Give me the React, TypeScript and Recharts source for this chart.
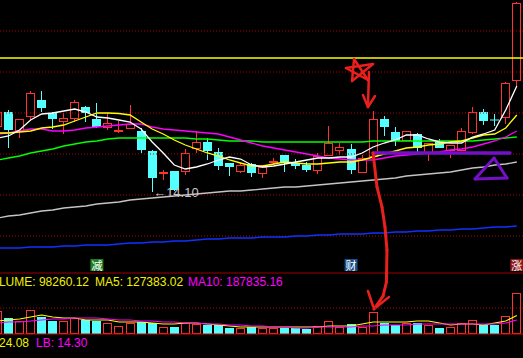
import React from 'react';
import { ComposedChart, Bar, Line, XAxis, YAxis, ReferenceLine, ReferenceDot } from 'recharts';

// ---------------- data ----------------
const dayIndex = [-1, 0, 1, 2, 3, 4, 5, 6, 7, 8, 9, 10, 11, 12, 13, 14, 15, 16, 17, 18, 19, 20, 21, 22, 23, 24, 25, 26, 27, 28, 29, 30, 31, 32, 33, 34, 35, 36, 37, 38, 39, 40, 41, 42, 43, 44, 45, 46];

const openPrices = [15.40, 15.70, 15.32, 15.60, 15.94, 15.68, 15.50, 15.56, 15.80, 15.56, 15.38, 15.32, 15.36, 15.32, 14.92, 14.46, 14.52, 14.50, 14.96, 15.10, 14.90, 14.68, 14.50, 14.66, 14.46, 14.70, 14.84, 14.68, 14.64, 14.52, 14.82, 14.92, 14.96, 14.48, 14.80, 15.56, 15.30, 15.12, 15.26, 14.86, 15.10, 14.92, 14.92, 15.28, 15.70, 15.54, 15.58, 16.32];
const highPrices = [15.72, 15.74, 15.56, 16.12, 16.12, 15.70, 15.68, 15.94, 15.82, 15.88, 15.68, 15.52, 15.84, 15.38, 14.94, 14.54, 14.52, 14.96, 15.32, 15.18, 14.98, 14.68, 14.68, 14.68, 14.62, 14.78, 14.84, 14.76, 14.70, 14.88, 15.42, 15.08, 15.06, 14.84, 15.72, 15.62, 15.40, 15.32, 15.28, 15.08, 15.16, 15.04, 15.38, 15.80, 15.76, 15.66, 16.30, 17.90];
const lowPrices = [15.38, 14.98, 15.18, 15.54, 15.70, 15.36, 15.26, 15.50, 15.50, 15.38, 15.34, 15.28, 15.36, 14.88, 14.10, 14.34, 14.12, 14.44, 14.88, 14.74, 14.54, 14.42, 14.48, 14.40, 14.38, 14.64, 14.50, 14.56, 14.50, 14.46, 14.82, 14.84, 14.46, 14.48, 14.80, 15.22, 15.02, 15.12, 14.90, 14.72, 14.98, 14.78, 14.92, 15.26, 15.44, 15.42, 15.46, 16.22];
const closePrices = [15.70, 15.34, 15.56, 16.08, 15.78, 15.56, 15.58, 15.90, 15.68, 15.40, 15.48, 15.34, 15.46, 14.94, 14.38, 14.50, 14.14, 14.88, 15.10, 14.92, 14.62, 14.60, 14.64, 14.48, 14.60, 14.72, 14.70, 14.62, 14.54, 14.82, 15.08, 15.00, 14.54, 14.78, 15.56, 15.40, 15.12, 15.32, 14.98, 15.08, 14.98, 15.04, 15.32, 15.70, 15.52, 15.54, 16.28, 17.88];

const ma5 = [15.18, 15.22, 15.34, 15.54, 15.66, 15.68, 15.72, 15.76, 15.70, 15.60, 15.58, 15.54, 15.50, 15.36, 15.10, 14.88, 14.64, 14.56, 14.60, 14.66, 14.74, 14.80, 14.76, 14.64, 14.60, 14.62, 14.66, 14.70, 14.74, 14.78, 14.78, 14.80, 14.80, 14.88, 15.00, 15.08, 15.14, 15.24, 15.24, 15.16, 15.10, 15.08, 15.08, 15.20, 15.26, 15.34, 15.74, 16.22];
const ma10 = [15.28, 15.28, 15.30, 15.32, 15.38, 15.40, 15.44, 15.52, 15.60, 15.68, 15.68, 15.67, 15.64, 15.50, 15.36, 15.26, 15.14, 15.04, 14.96, 14.88, 14.82, 14.74, 14.68, 14.62, 14.62, 14.66, 14.70, 14.68, 14.66, 14.66, 14.68, 14.70, 14.70, 14.74, 14.80, 14.86, 14.92, 14.98, 15.00, 15.04, 15.06, 15.10, 15.12, 15.18, 15.24, 15.26, 15.38, 15.64];
const ma20 = [15.26, 15.28, 15.32, 15.36, 15.36, 15.32, 15.32, 15.34, 15.38, 15.40, 15.42, 15.44, 15.46, 15.46, 15.40, 15.36, 15.34, 15.32, 15.30, 15.28, 15.26, 15.20, 15.14, 15.08, 15.02, 14.98, 14.94, 14.90, 14.86, 14.82, 14.78, 14.76, 14.74, 14.74, 14.74, 14.78, 14.82, 14.84, 14.86, 14.88, 14.90, 14.94, 14.96, 15.00, 15.06, 15.12, 15.20, 15.32];
const ma30 = [14.74, 14.78, 14.82, 14.88, 14.92, 14.96, 15.02, 15.06, 15.10, 15.12, 15.16, 15.18, 15.18, 15.18, 15.18, 15.18, 15.18, 15.18, 15.16, 15.16, 15.14, 15.12, 15.12, 15.12, 15.10, 15.10, 15.10, 15.10, 15.10, 15.10, 15.10, 15.10, 15.10, 15.10, 15.12, 15.12, 15.12, 15.12, 15.12, 15.12, 15.12, 15.12, 15.12, 15.12, 15.14, 15.16, 15.18, 15.20];
const ma60 = [13.58, 13.62, 13.64, 13.68, 13.72, 13.74, 13.78, 13.80, 13.82, 13.86, 13.88, 13.90, 13.94, 13.96, 13.98, 14.00, 14.02, 14.04, 14.06, 14.08, 14.10, 14.12, 14.12, 14.14, 14.16, 14.18, 14.20, 14.20, 14.22, 14.24, 14.26, 14.28, 14.30, 14.32, 14.34, 14.36, 14.38, 14.42, 14.44, 14.46, 14.48, 14.50, 14.54, 14.58, 14.60, 14.64, 14.66, 14.70];
const ma120 = [12.98, 12.98, 12.98, 13.00, 13.00, 13.00, 13.02, 13.02, 13.04, 13.04, 13.04, 13.06, 13.08, 13.08, 13.10, 13.10, 13.12, 13.12, 13.14, 13.16, 13.16, 13.18, 13.18, 13.18, 13.20, 13.20, 13.20, 13.22, 13.22, 13.24, 13.24, 13.26, 13.26, 13.26, 13.28, 13.28, 13.30, 13.30, 13.32, 13.32, 13.34, 13.34, 13.36, 13.36, 13.38, 13.40, 13.40, 13.42];

const volumes = [460000, 320000, 260000, 480000, 340000, 260000, 260000, 320000, 280000, 260000, 220000, 160000, 220000, 240000, 220000, 140000, 140000, 220000, 200000, 180000, 180000, 120000, 120000, 140000, 120000, 120000, 120000, 120000, 100000, 160000, 260000, 140000, 200000, 140000, 440000, 220000, 180000, 220000, 220000, 180000, 120000, 140000, 220000, 280000, 180000, 180000, 360000, 820000];
const volMa5 = [260000, 280000, 300000, 340000, 380000, 340000, 320000, 320000, 280000, 280000, 280000, 240000, 240000, 240000, 220000, 200000, 200000, 220000, 220000, 200000, 180000, 160000, 140000, 140000, 140000, 140000, 140000, 140000, 140000, 140000, 160000, 160000, 160000, 200000, 240000, 240000, 240000, 240000, 260000, 260000, 220000, 180000, 200000, 200000, 180000, 220000, 260000, 370000];
const volMa10 = [220000, 240000, 240000, 260000, 280000, 300000, 300000, 320000, 320000, 320000, 300000, 280000, 280000, 260000, 260000, 240000, 240000, 220000, 220000, 200000, 200000, 180000, 180000, 160000, 160000, 140000, 140000, 120000, 120000, 140000, 140000, 140000, 140000, 160000, 160000, 180000, 180000, 180000, 200000, 200000, 200000, 200000, 200000, 200000, 200000, 200000, 220000, 280000];

const gridPrices = [17.32, 16.5, 15.68, 14.86, 14.04, 13.22];
const drawnLevel = 16.78;
const panelSeparator = 12.48;
const volGridLevel = 520000;

const lowDay = 13;
const lowValue = 14.1;

const markerDays = [8, 31, 46];
const markerTexts = ['减', '财', '涨'];
const markerKinds = ['cut', 'report', 'limit'];

// hand-drawn annotations, in (day, price) units
const starStroke = [[31.27, 16.76], [32.53, 16.34], [30.54, 16.58], [32.99, 16.66], [31.09, 16.32], [31.27, 16.76]];
const shortArrow = [[32.62, 16.5], [32.53, 15.8]];
const shortArrowHead = [[32.08, 16.04], [32.53, 15.8], [33.17, 16.02]];
const longArrow = [[32.99, 14.88], [33.35, 14.2], [33.8, 13.8], [34.07, 13.4], [34.25, 12.94], [34.2, 12.3], [33.9, 12.02], [33.08, 11.76]];
const longArrowHead = [[32.53, 12.12], [33.08, 11.76], [34.43, 12.0]];
const purpleBar = [[32.99, 14.88], [45.38, 14.88]];
const purpleTriangle = [[43.94, 14.78], [42.22, 14.36], [45.11, 14.38], [43.94, 14.78]];

// ---------------- layout / style ----------------
const W = 523;
const H = 358;
const X_DOMAIN: [number, number] = [-0.769, 46.561];
const PRICE_DOMAIN: [number, number] = [10.78, 17.94];
const VOL_DOMAIN: [number, number] = [-480000, 6680000];
const MARKER_ROW = 12.64;
const UP = '#ff3232';
const DOWN = '#54ffff';
const GRID = '#b00000';
const markerColors: Record<string, string> = { cut: '#1f7f1f', report: '#1a4f8a', limit: '#8e1414' };
const FONT = '"Liberation Sans", Arial, sans-serif';

const rows = dayIndex.map((d, k) => ({
  d,
  open: openPrices[k],
  high: highPrices[k],
  low: lowPrices[k],
  close: closePrices[k],
  ma5: ma5[k],
  ma10: ma10[k],
  ma20: ma20[k],
  ma30: ma30[k],
  ma60: ma60[k],
  ma120: ma120[k],
  vol: volumes[k],
  vma5: volMa5[k],
  vma10: volMa10[k],
}));

function CandleShape(props: any) {
  const { x, y, width, height, payload } = props;
  if (payload == null || x == null || y == null) return null;
  const o = payload.open, c = payload.close, h = payload.high, l = payload.low;
  const yHigh = Math.min(y, y + height);
  const yLow = Math.max(y, y + height);
  const span = h - l;
  const toY = (v: number) => (span > 0 ? yHigh + ((h - v) / span) * (yLow - yHigh) : yHigh);
  const cx = Math.floor(x + width / 2) + 0.5;
  const up = c > o;
  const color = up ? UP : DOWN;
  const yTop = toY(Math.max(o, c));
  const yBot = toY(Math.min(o, c));
  if (yBot - yTop < 2.5) {
    const mid = Math.round((yTop + yBot) / 2);
    const th = up ? 2 : 1;
    return (
      <g>
        <line x1={cx} x2={cx} y1={yHigh} y2={yLow} stroke={color} strokeWidth={1} />
        <rect x={cx - 4.5} y={mid - th / 2} width={9} height={th} fill={color} />
      </g>
    );
  }
  if (up) {
    const t = Math.round(yTop) + 0.5;
    const b = Math.round(yBot) - 0.5;
    return (
      <g>
        <line x1={cx} x2={cx} y1={yHigh} y2={t} stroke={color} strokeWidth={1} />
        <line x1={cx} x2={cx} y1={b} y2={yLow} stroke={color} strokeWidth={1} />
        <rect x={cx - 4} y={t} width={8} height={b - t} fill="none" stroke={color} strokeWidth={1} />
      </g>
    );
  }
  return (
    <g>
      <line x1={cx} x2={cx} y1={yHigh} y2={yLow} stroke={color} strokeWidth={1} />
      <rect x={cx - 4.5} y={yTop} width={9} height={yBot - yTop} fill={color} />
    </g>
  );
}

function VolShape(props: any) {
  const { x, y, width, height, payload } = props;
  if (payload == null || x == null || y == null) return null;
  const top = Math.min(y, y + height);
  const bottom = Math.max(y, y + height);
  const cx = Math.floor(x + width / 2) + 0.5;
  const up = payload.close > payload.open;
  if (up) {
    const t = Math.round(top) + 0.5;
    return <rect x={cx - 4} y={t} width={8} height={Math.max(0, bottom - t - 0.5)} fill="none" stroke={UP} strokeWidth={1} />;
  }
  return <rect x={cx - 4.5} y={top} width={9} height={bottom - top} fill={DOWN} />;
}

function polyline(points: number[][], key: string, color: string, width: number) {
  return points.slice(1).map((p, k) => (
    <ReferenceLine
      key={`${key}-${k}`}
      segment={[{ x: points[k][0], y: points[k][1] }, { x: p[0], y: p[1] }]}
      stroke={color}
      strokeWidth={width}
      strokeLinecap="round"
      ifOverflow="visible"
    />
  ));
}

function MarkerShape(props: any, text: string, kind: string) {
  const { cx, cy } = props;
  if (cx == null || cy == null) return <g />;
  return (
    <g>
      <rect x={cx - 6.5} y={cy - 6} width={13} height={12} fill={markerColors[kind]} />
      <text x={cx} y={cy + 4.5} textAnchor="middle" fill="#ffffff" fontSize={11} fontFamily='"Noto Sans CJK SC", sans-serif'>
        {text}
      </text>
    </g>
  );
}

const ANNOT_RED = '#e8201e';
const ANNOT_PURPLE = '#7410c8';

export default function App() {
  return (
    <div style={{ position: 'absolute', left: 0, top: 0, width: W, height: H, background: '#000', overflow: 'hidden' }}>
      <div style={{ position: 'absolute', left: 0, top: 0 }}>
        <ComposedChart width={W} height={H} data={rows} margin={{ top: 0, right: 0, bottom: 0, left: 0 }}>
          <XAxis dataKey="d" type="number" domain={X_DOMAIN} allowDataOverflow hide />
          <YAxis type="number" domain={PRICE_DOMAIN} allowDataOverflow hide />
          {gridPrices.map((p) => (
            <ReferenceLine key={`g${p}`} y={p} stroke={GRID} strokeDasharray="1 2" strokeWidth={1} />
          ))}
          <ReferenceLine y={drawnLevel} stroke="#ffff00" strokeWidth={1.6} />
          <ReferenceLine y={panelSeparator} stroke="#a00000" strokeWidth={1} />
          <Bar dataKey={(r: any) => [r.low, r.high]} shape={CandleShape} barSize={9} isAnimationActive={false} />
          <Line dataKey="ma120" stroke="#1030ff" strokeWidth={1.6} dot={false} isAnimationActive={false} />
          <Line dataKey="ma60" stroke="#c4c4c4" strokeWidth={1.3} dot={false} isAnimationActive={false} />
          <Line dataKey="ma30" stroke="#00ff00" strokeWidth={1.3} dot={false} isAnimationActive={false} />
          <Line dataKey="ma20" stroke="#ff00ff" strokeWidth={1.3} dot={false} isAnimationActive={false} />
          <Line dataKey="ma10" stroke="#ffff00" strokeWidth={1.3} dot={false} isAnimationActive={false} />
          <Line dataKey="ma5" stroke="#ffffff" strokeWidth={1.3} dot={false} isAnimationActive={false} />
          <ReferenceDot
            x={lowDay}
            y={lowValue}
            r={1}
            fill="transparent"
            stroke="none"
            label={{ value: `←${lowValue.toFixed(2)}`, position: 'right', offset: 0, fill: '#c8c8c8', fontSize: 13, fontFamily: FONT }}
          />
          {markerDays.map((d, k) => (
            <ReferenceDot
              key={`m${d}`}
              x={d}
              y={MARKER_ROW}
              r={6}
              shape={(p: any) => MarkerShape(p, markerTexts[k], markerKinds[k])}
            />
          ))}
          {polyline(purpleBar, 'pb', ANNOT_PURPLE, 3.5)}
          {polyline(purpleTriangle, 'pt', ANNOT_PURPLE, 3)}
          {polyline(starStroke, 'st', ANNOT_RED, 2.5)}
          {polyline(shortArrow, 'sa', ANNOT_RED, 2.5)}
          {polyline(shortArrowHead, 'sh', ANNOT_RED, 2.5)}
          {polyline(longArrow, 'la', ANNOT_RED, 3)}
          {polyline(longArrowHead, 'lh', ANNOT_RED, 2.5)}
        </ComposedChart>
      </div>
      <div style={{ position: 'absolute', left: 0, top: 0 }}>
        <ComposedChart width={W} height={H} data={rows} margin={{ top: 0, right: 0, bottom: 0, left: 0 }}>
          <XAxis dataKey="d" type="number" domain={X_DOMAIN} allowDataOverflow hide />
          <YAxis type="number" domain={VOL_DOMAIN} allowDataOverflow hide />
          <ReferenceLine y={volGridLevel} stroke={GRID} strokeDasharray="1 2" strokeWidth={1} />
          <ReferenceLine y={0} stroke="#e00000" strokeWidth={1.2} />
          <Bar dataKey="vol" shape={VolShape} barSize={9} isAnimationActive={false} />
          <Line dataKey="vma5" stroke="#ffff00" strokeWidth={1.2} dot={false} isAnimationActive={false} />
          <Line dataKey="vma10" stroke="#ff00ff" strokeWidth={1.2} dot={false} isAnimationActive={false} />
        </ComposedChart>
      </div>
      <svg width={W} height={H} style={{ position: 'absolute', left: 0, top: 0 }} fontFamily={FONT} fontSize={12}>
        <text x={89} y={286} textAnchor="end" fill="#f0f000">VOLUME: 98260.12</text>
        <text x={95} y={286} fill="#f0f000">MA5: 127383.02</text>
        <text x={188} y={286} fill="#ff00ff">MA10: 187835.16</text>
        <text x={29} y={347} textAnchor="end" fill="#f0f000">24.08</text>
        <text x={36} y={347} fill="#ff00ff">LB: 14.30</text>
      </svg>
    </div>
  );
}
